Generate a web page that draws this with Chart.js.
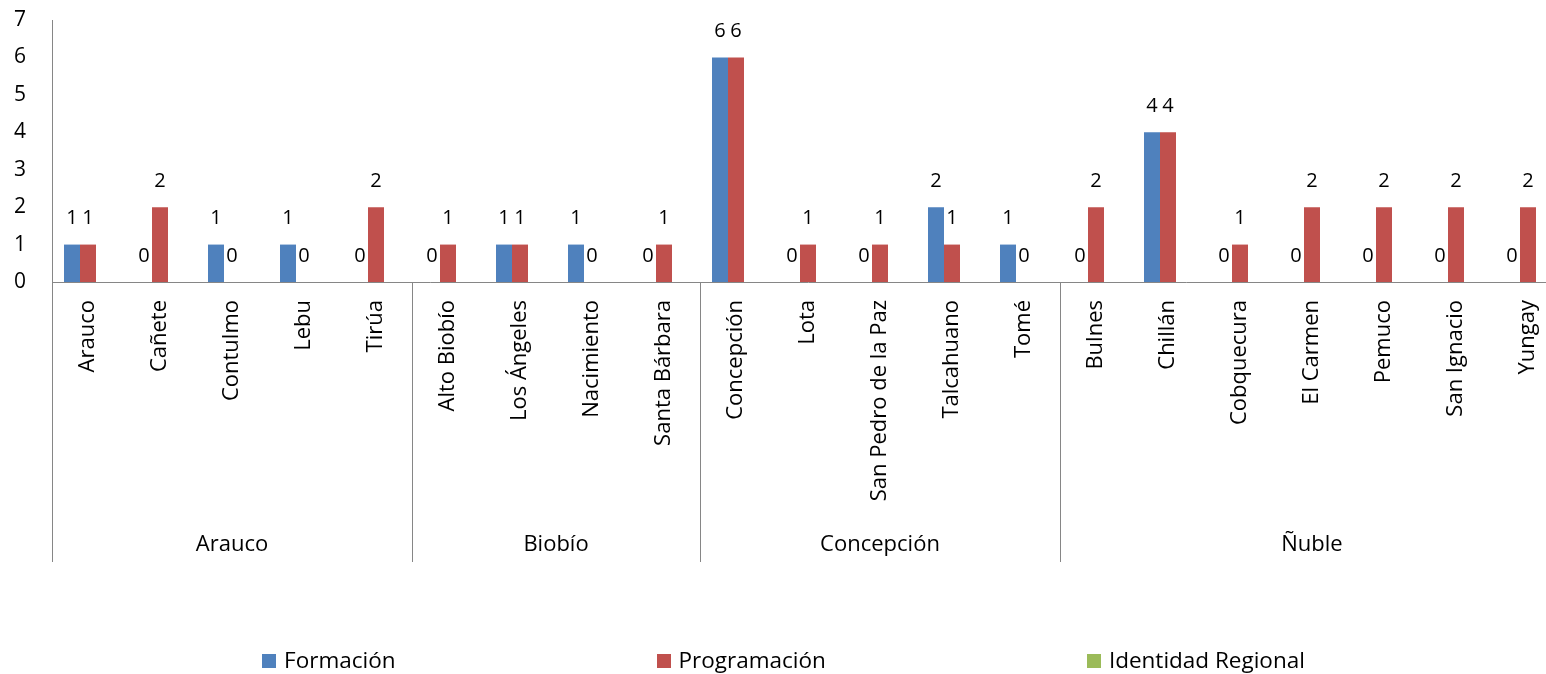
<!DOCTYPE html>
<html>
<head>
<meta charset="utf-8">
<script src="https://cdn.jsdelivr.net/npm/chart.js@4/dist/chart.umd.min.js"></script>
<style>
  html, body { margin: 0; padding: 0; background: #ffffff; overflow: hidden; }
  #wrap { width: 1600px; height: 674px; }
</style>
</head>
<body>
<div id="wrap"><canvas id="c" width="1600" height="674"></canvas></div>
<script>
// ---- data ----
const comunas = ['Arauco','Cañete','Contulmo','Lebu','Tirúa',
                 'Alto Biobío','Los Ángeles','Nacimiento','Santa Bárbara',
                 'Concepción','Lota','San Pedro de la Paz','Talcahuano','Tomé',
                 'Bulnes','Chillán','Cobquecura','El Carmen','Pemuco','San Ignacio','Yungay'];
const provincias = ['Arauco','Biobío','Concepción','Ñuble'];
const provinciaSizes = [5, 4, 5, 7];
const formacion    = [1,0,1,1,0, 0,1,1,0, 6,0,0,2,1, 0,4,0,0,0,0,0];
const programacion = [1,2,0,0,2, 1,1,0,1, 6,1,1,1,0, 2,4,1,2,2,2,2];
const identidadRegional = comunas.map(() => null);
const seriesNames = ['Formación','Programación','Identidad Regional'];
const seriesColors = ['#4F81BD','#C0504D','#9BBB59'];
const yTicks = [0,1,2,3,4,5,6,7];

const FONT = "'Open Sans', 'Noto Sans', sans-serif";
const AXIS_GRAY = '#868686';

// data labels drawn from bar elements
const dataLabels = {
  id: 'dataLabels',
  afterDatasetsDraw(chart) {
    const ctx = chart.ctx;
    ctx.save();
    ctx.font = "20px " + FONT;
    ctx.fillStyle = '#000';
    ctx.textAlign = 'center';
    ctx.textBaseline = 'middle';
    chart.data.datasets.forEach((ds, i) => {
      const meta = chart.getDatasetMeta(i);
      meta.data.forEach((el, j) => {
        const v = ds.data[j];
        if (v === null || v === undefined) return;
        ctx.fillText(String(v), el.x, el.y - 26);
      });
    });
    ctx.restore();
  }
};

// group (province) labels and dividers
const groupAxis = {
  id: 'groupAxis',
  afterDraw(chart) {
    const ctx = chart.ctx;
    const xs = chart.scales.x;
    const bottom = chart.chartArea.bottom;
    const lineEnd = 562;
    ctx.save();
    ctx.strokeStyle = AXIS_GRAY;
    ctx.lineWidth = 1;
    let start = 0;
    const bounds = [0];
    provinciaSizes.forEach(s => { start += s; bounds.push(start); });
    bounds.forEach(b => {
      const x = Math.round(xs.getPixelForValue(b - 0.5)) + 0.5;
      ctx.beginPath();
      ctx.moveTo(x, bottom);
      ctx.lineTo(x, lineEnd);
      ctx.stroke();
    });
    ctx.font = "22px " + FONT;
    ctx.fillStyle = '#000';
    ctx.textAlign = 'center';
    ctx.textBaseline = 'middle';
    provincias.forEach((p, i) => {
      const a = xs.getPixelForValue(bounds[i] - 0.5);
      const b = xs.getPixelForValue(bounds[i + 1] - 0.5);
      ctx.fillText(p, (a + b) / 2, 545);
    });
    ctx.restore();
  }
};

// legend drawn from dataset labels/colors
const customLegend = {
  id: 'customLegend',
  afterDraw(chart) {
    const ctx = chart.ctx;
    ctx.save();
    ctx.font = "22.5px " + FONT;
    const box = 14, boxGap = 8, gap = 261, cy = 661, center = 783.5;
    const items = chart.data.datasets.map(ds => ({
      text: ds.label, color: ds.backgroundColor,
      w: box + boxGap + ctx.measureText(ds.label).width
    }));
    const total = items.reduce((s, it) => s + it.w, 0) + gap * (items.length - 1);
    let x = center - total / 2;
    ctx.textBaseline = 'middle';
    ctx.textAlign = 'left';
    items.forEach(it => {
      ctx.fillStyle = it.color;
      ctx.fillRect(Math.round(x), cy - box / 2, box, box);
      ctx.fillStyle = '#000';
      ctx.fillText(it.text, x + box + boxGap, cy + 1);
      x += it.w + gap;
    });
    ctx.restore();
  }
};

new Chart(document.getElementById('c'), {
  type: 'bar',
  data: {
    labels: comunas,
    datasets: [
      { label: seriesNames[0], data: formacion, backgroundColor: seriesColors[0] },
      { label: seriesNames[1], data: programacion, backgroundColor: seriesColors[1] },
      { label: seriesNames[2], data: identidadRegional, backgroundColor: seriesColors[2] }
    ]
  },
  options: {
    responsive: false,
    animation: false,
    devicePixelRatio: 1,
    layout: { padding: { left: 0, right: 36, top: 20, bottom: 0 } },
    datasets: { bar: { categoryPercentage: 48 / 72, barPercentage: 1.0 } },
    plugins: {
      legend: { display: false },
      tooltip: { enabled: false }
    },
    scales: {
      x: {
        type: 'category',
        offset: true,
        grid: { display: false, drawTicks: false },
        border: { display: true, color: AXIS_GRAY, width: 1 },
        ticks: {
          autoSkip: false, minRotation: 90, maxRotation: 90,
          padding: 18, color: '#000',
          font: { family: FONT, size: 22 }
        },
        afterFit(scale) { scale.height = 392; }
      },
      y: {
        min: 0, max: 7,
        grid: { display: false, drawTicks: false },
        border: { display: true, color: AXIS_GRAY, width: 1 },
        afterBuildTicks(scale) { scale.ticks = yTicks.map(v => ({ value: v })); },
        ticks: {
          padding: 26, color: '#000',
          font: { family: FONT, size: 21 }
        },
        afterFit(scale) {
          scale.width = 52;
          scale.paddingTop = 0;
          scale.paddingBottom = 0;
        }
      }
    }
  },
  plugins: [dataLabels, groupAxis, customLegend]
});
</script>
</body>
</html>
